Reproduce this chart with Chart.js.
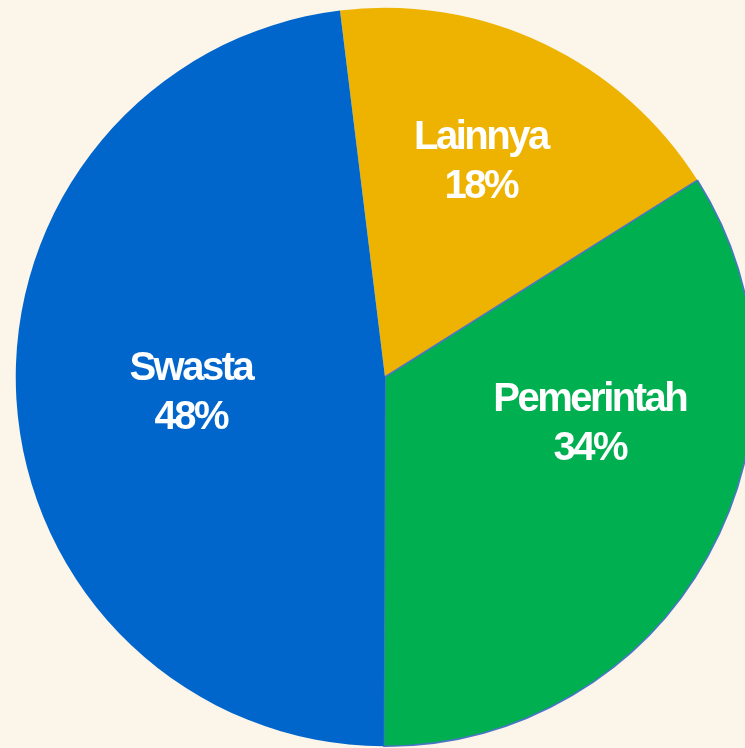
<!DOCTYPE html>
<html>
<head>
<meta charset="utf-8">
<script src="https://cdn.jsdelivr.net/npm/chart.js@4"></script>
<style>
    html, body { margin: 0; padding: 0; background: #fbf5ea; overflow: hidden; }
    #wrap { width: 770px; height: 756px; }
</style>
</head>
<body>
<div id="wrap"><canvas id="pie"></canvas></div>
<script>
const categories = ['Lainnya', 'Pemerintah', 'Swasta'];
const shares = [18, 34, 48];
const sliceColors = ['#edb300', '#00af50', '#0066cc'];

// label placement per slice: fraction of radius and angle shift (degrees)
const labelPlace = [
    { r: 0.646, shift: -1.7 },
    { r: 0.567, shift: -17 },
    { r: 0.527, shift: -0.4 }
];

const sliceLabels = {
    id: 'sliceLabels',
    afterDatasetsDraw(chart) {
        const ctx = chart.ctx;
        const arcs = chart.getDatasetMeta(0).data;
        const total = shares.reduce((a, b) => a + b, 0);
        ctx.save();
        ctx.fillStyle = '#ffffff';
        ctx.font = 'bold 40px "Liberation Sans", Arial, sans-serif';
        ctx.letterSpacing = '-2.5px';
        ctx.textAlign = 'center';
        ctx.textBaseline = 'alphabetic';
        arcs.forEach((arc, i) => {
            const p = arc.getProps(['x', 'y', 'startAngle', 'endAngle', 'outerRadius'], true);
            const mid = (p.startAngle + p.endAngle) / 2 + labelPlace[i].shift * Math.PI / 180;
            const rr = p.outerRadius * labelPlace[i].r;
            const cx = p.x + Math.cos(mid) * rr;
            const cy = p.y + Math.sin(mid) * rr;
            const pct = Math.round(shares[i] / total * 100) + '%';
            ctx.fillText(categories[i], cx, cy - 10);
            ctx.fillText(pct, cx, cy + 39);
        });
        ctx.restore();
    }
};

new Chart(document.getElementById('pie'), {
    type: 'pie',
    data: {
        labels: categories,
        datasets: [{
            data: shares,
            backgroundColor: sliceColors,
            borderColor: ['#edb300', '#4a74c6', '#0066cc'],
            borderWidth: [0, 1.5, 0]
        }]
    },
    options: {
        responsive: true,
        maintainAspectRatio: false,
        animation: false,
        rotation: -7,
        layout: { padding: { top: 7, bottom: 9, left: 0, right: 0 } },
        plugins: {
            legend: { display: false },
            tooltip: { enabled: false }
        }
    },
    plugins: [sliceLabels]
});
</script>
</body>
</html>
